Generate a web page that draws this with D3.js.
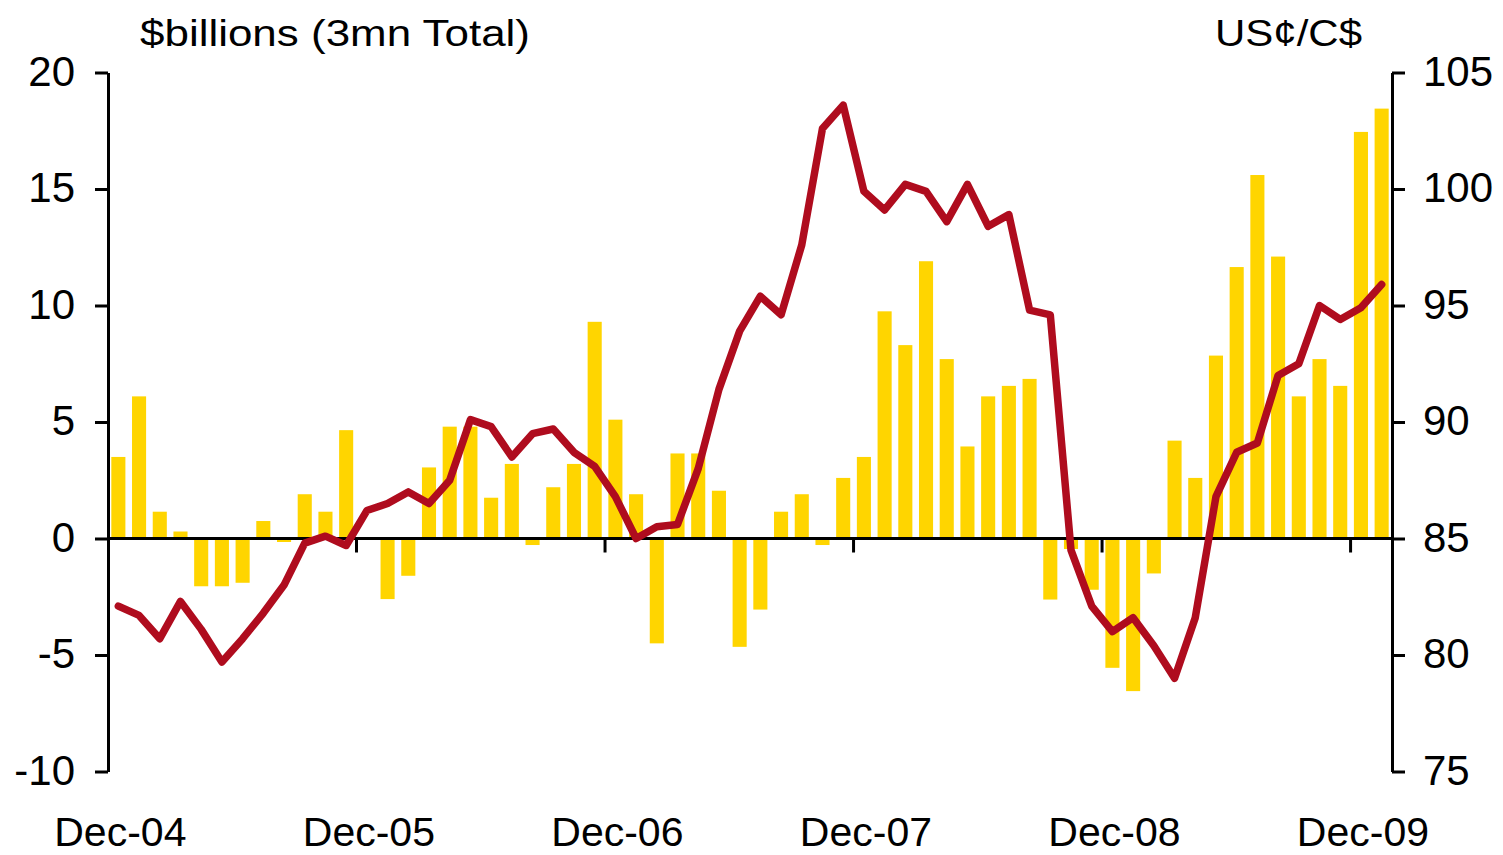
<!DOCTYPE html>
<html>
<head>
<meta charset="utf-8">
<script src="https://cdn.jsdelivr.net/npm/d3@7"></script>
<style>
  html, body { margin: 0; padding: 0; background: #fff; }
  svg { display: block; font-family: "Liberation Sans", Arial, sans-serif; }
</style>
</head>
<body>
<svg id="chart" width="1503" height="855"></svg>
<script>
// monthly, Dec-04 .. Jan-10
let months = d3.utcMonth.range(new Date(Date.UTC(2004, 11, 1)), new Date(Date.UTC(2010, 1, 1)))
	.map(d3.utcFormat("%b-%y"));

// $billions (3mn total), left axis
let flows = [
	3.5, 6.1, 1.15, 0.3, -2.05, -2.05, -1.9, 0.75, -0.15, 1.9, 1.15, 4.65,
	0, -2.6, -1.6, 3.05, 4.8, 4.8, 1.75, 3.2, -0.28, 2.2, 3.2, 9.3,
	5.1, 1.9, -4.5, 3.65, 3.65, 2.05, -4.65, -3.05, 1.15, 1.9, -0.28, 2.6,
	3.5, 9.75, 8.3, 11.9, 7.7, 3.95, 6.1, 6.55, 6.85, -2.62, -0.45, -2.2,
	-5.55, -6.55, -1.5, 4.2, 2.6, 7.85, 11.65, 15.6, 12.1, 6.1, 7.7, 6.55,
	17.45, 18.45
];

// US cents per C$, right axis
let cad = [
	82.1, 81.7, 80.7, 82.3, 81.1, 79.7, 80.7, 81.8, 83.0, 84.8, 85.1, 84.7,
	86.2, 86.5, 87.0, 86.5, 87.5, 90.1, 89.8, 88.5, 89.5, 89.7, 88.7, 88.1,
	86.8, 85.0, 85.5, 85.6, 88.0, 91.4, 93.9, 95.4, 94.6, 97.6, 102.6, 103.6,
	99.9, 99.1, 100.2, 99.9, 98.6, 100.2, 98.4, 98.9, 94.8, 94.6, 84.5, 82.1,
	81.0, 81.6, 80.4, 79.0, 81.6, 86.8, 88.7, 89.1, 92.0, 92.5, 95.0, 94.4,
	94.9, 95.9
];

let leftTicks = [-10, -5, 0, 5, 10, 15, 20];
let rightTicks = [75, 80, 85, 90, 95, 100, 105];
let xLabels = ["Dec-04", "Dec-05", "Dec-06", "Dec-07", "Dec-08", "Dec-09"];

let svg = d3.select("#chart");
let plotL = 108, plotR = 1392, plotT = 72.5, plotB = 771.5;

let x = d3.scaleBand().domain(months).range([plotL, plotR]).paddingInner(0.32).paddingOuter(0.16);
let yL = d3.scaleLinear().domain([-10, 20]).range([plotB, plotT]);
let yR = d3.scaleLinear().domain([75, 105]).range([plotB, plotT]);
let step = x.step();

// bars
svg.append("g").selectAll("rect")
	.data(flows)
	.enter()
	.append("rect")
	.attr("x", (d, i) => x(months[i]))
	.attr("width", x.bandwidth())
	.attr("y", d => yL(Math.max(0, d)))
	.attr("height", d => Math.abs(yL(d) - yL(0)))
	.style("fill", "#FFD500");

// zero line + category ticks
svg.append("line")
	.attr("x1", plotL).attr("x2", plotR)
	.attr("y1", yL(0)).attr("y2", yL(0))
	.style("stroke", "#000").style("stroke-width", 3);

let tickIdx = xLabels.map(l => months.indexOf(l));
svg.append("g").selectAll("line")
	.data(tickIdx.filter(i => i > 0))
	.enter()
	.append("line")
	.attr("x1", i => plotL + i * step)
	.attr("x2", i => plotL + i * step)
	.attr("y1", yL(0))
	.attr("y2", yL(0) + 14)
	.style("stroke", "#000").style("stroke-width", 3);

svg.append("g").selectAll("text")
	.data(xLabels)
	.enter()
	.append("text")
	.attr("x", d => x(d) + x.bandwidth() / 2 + 2)
	.attr("y", 846)
	.attr("text-anchor", "middle")
	.style("font-size", "41px")
	.text(d => d);

// line
let line = d3.line()
	.x((d, i) => x(months[i]) + x.bandwidth() / 2)
	.y(d => yR(d));

svg.append("path")
	.datum(cad)
	.attr("d", line)
	.style("fill", "none")
	.style("stroke", "#AF0C1E")
	.style("stroke-width", 7.5)
	.style("stroke-linejoin", "round")
	.style("stroke-linecap", "round");

// axes, plain hyphen for negatives
let fmt = d => String(d);
let axL = svg.append("g")
	.attr("transform", "translate(" + plotL + ",0)")
	.call(d3.axisLeft(yL).tickValues(leftTicks).tickFormat(fmt).tickSize(13).tickSizeOuter(0).tickPadding(20));
let axR = svg.append("g")
	.attr("transform", "translate(" + plotR + ",0)")
	.call(d3.axisRight(yR).tickValues(rightTicks).tickFormat(fmt).tickSize(13).tickSizeOuter(0).tickPadding(18));

[axL, axR].forEach(ax => {
	ax.select(".domain").style("stroke", "#000").style("stroke-width", 3);
	ax.selectAll(".tick line").style("stroke", "#000").style("stroke-width", 3);
	ax.selectAll(".tick text")
		.style("font-size", "42px")
		.style("font-family", "'Liberation Sans', Arial, sans-serif")
		.style("fill", "#000")
		.attr("dy", "0.3em");
});

// unit titles
svg.append("text")
	.attr("x", 140).attr("y", 46)
	.attr("textLength", 390).attr("lengthAdjust", "spacingAndGlyphs")
	.style("font-size", "37px")
	.text("$billions (3mn Total)");

svg.append("text")
	.attr("x", 1215).attr("y", 46)
	.attr("textLength", 147).attr("lengthAdjust", "spacingAndGlyphs")
	.style("font-size", "37px")
	.text("US¢/C$");
</script>
</body>
</html>
